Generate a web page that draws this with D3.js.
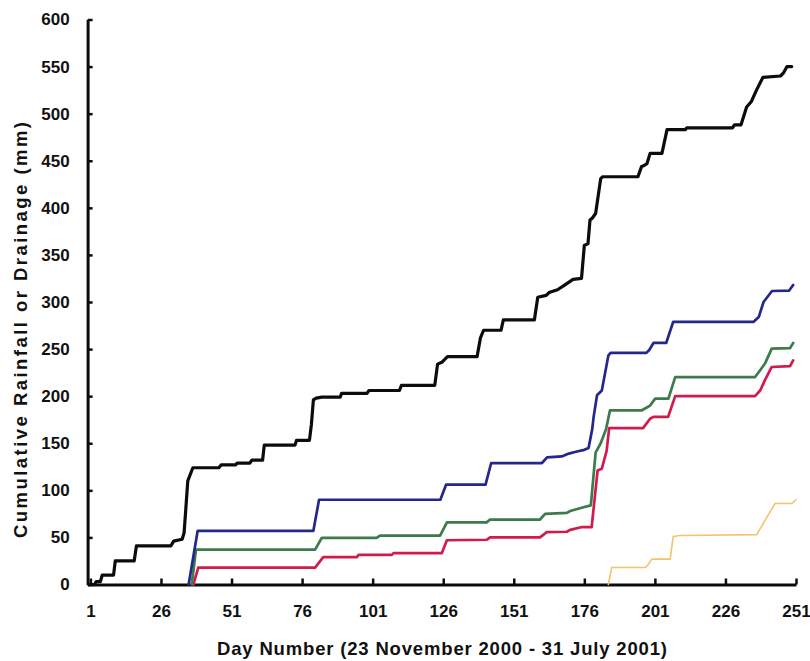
<!DOCTYPE html>
<html>
<head>
<meta charset="utf-8">
<script src="https://cdn.jsdelivr.net/npm/d3@7"></script>
<style>
  html, body { margin: 0; padding: 0; background: #fff; }
  svg { display: block; }
  text { font-family: "Liberation Sans", Arial, sans-serif; font-weight: bold; fill: #111; }
</style>
</head>
<body>
<svg id="chart" width="810" height="661"></svg>
<script>
// Cumulative rainfall and drainage, day number vs. mm

const xTicks = [1, 26, 51, 76, 101, 126, 151, 176, 201, 226, 251];
const yTicks = [0, 50, 100, 150, 200, 250, 300, 350, 400, 450, 500, 550, 600];

// [day, cumulative mm]
const rainfall = [
  [0.8, 0], [2.5, 0], [3, 3], [4.5, 3], [5.2, 10], [9.2, 10], [9.8, 25], [16.5, 25],
  [17.3, 41], [29.5, 41], [30.5, 46], [33.5, 48], [34.2, 55], [35.5, 110], [37.3, 124],
  [46.5, 124], [47.3, 127], [52.5, 127], [53, 129], [57.5, 129], [58.2, 132], [62, 132],
  [62.6, 148], [73.5, 148], [74, 153], [78.6, 153], [79.3, 170], [80, 196], [81, 198],
  [83, 199], [89.5, 199], [90, 203], [99, 203], [99.7, 206], [110.5, 206], [111.2, 211.5],
  [123, 211.5], [124, 234], [125.5, 236], [127.5, 242], [138, 242], [139.2, 262],
  [140.3, 270], [146.5, 270], [147.3, 281], [158.3, 281], [159.5, 305], [162.5, 307],
  [163.5, 310], [166.5, 313], [169, 318], [172, 324], [175, 325], [176, 360], [177.3, 362],
  [178, 387], [178.8, 389], [180, 394], [181.8, 431], [182.5, 433], [195, 433],
  [196.3, 444], [197.2, 445], [198.2, 447], [199.3, 457.8], [203.5, 457.8], [205.3, 483],
  [211.8, 483], [212.3, 485], [228.5, 485], [229.2, 488], [231.5, 488], [233.5, 507],
  [235.2, 513], [237, 525], [239.3, 538.6], [245.5, 540], [246.5, 543], [247.8, 550],
  [249.5, 550]
];

const drainBlue = [
  [35.8, 0], [39, 57], [80, 57], [82, 90], [125, 90], [127, 106], [141, 106], [143, 129],
  [161, 129], [162.8, 135], [168, 136], [170.5, 139], [173, 141], [176, 143], [177.5, 145],
  [178.8, 165], [179.3, 178], [180.5, 201], [182.2, 206], [184.5, 243], [185.3, 246],
  [198, 246], [199, 249], [200.5, 256.5], [205, 256.5], [207.5, 279], [236, 279],
  [237.8, 284], [239.5, 300], [242.5, 311.7], [248.5, 312], [250, 318]
];

const drainGreen = [
  [36.9, 0], [38.4, 37], [80.6, 37], [83, 49.6], [102.4, 49.6], [103.6, 52], [124.9, 52],
  [127.3, 66], [141.4, 66], [142.6, 69], [160.3, 69], [162.1, 75], [169.8, 76], [171, 78],
  [175.7, 82], [178.3, 84], [180, 140], [181.8, 150], [183.7, 165], [185.1, 185],
  [196.4, 185], [199.3, 190], [201.1, 197.4], [205.8, 197.4], [208.2, 220.3], [236.5, 220.3],
  [238.3, 227.5], [240, 234.6], [242.4, 250.5], [248.9, 251], [250, 256.5]
];

const drainRed = [
  [37.5, 0], [39.2, 18], [80.6, 18], [83.5, 29], [95.4, 29], [96, 31.5], [107.8, 31.5],
  [108.4, 33.3], [125.5, 33.3], [127.3, 47], [141.4, 47.5], [142.6, 50], [160.3, 50],
  [162.7, 55.6], [169.8, 56], [171, 58], [175.2, 61], [178.6, 61], [180.7, 121],
  [182.2, 123], [183.9, 142], [184.8, 166], [196.8, 166], [199.3, 176], [200.5, 178],
  [205.7, 178], [208.2, 200], [236.5, 200], [238.3, 206], [240, 217], [242.4, 231],
  [248.9, 232], [250, 238]
];

const drainYellow = [
  [184.5, 0], [185.7, 18], [197.5, 18], [198.6, 21], [199.9, 27], [206.4, 27], [207.5, 51],
  [209.9, 52], [237.1, 53], [240, 68], [243.6, 86], [249.5, 86], [251, 90]
];

const seriesList = [
  { data: drainYellow, color: "#f2c46c", width: 1.6 },
  { data: drainRed,    color: "#d01c4c", width: 2.7 },
  { data: drainGreen,  color: "#3d7a4c", width: 2.7 },
  { data: drainBlue,   color: "#24288a", width: 2.7 },
  { data: rainfall,    color: "#0c0c0c", width: 3.2 }
];

const svg = d3.select("#chart");

const x = d3.scaleLinear().domain([0, 251]).range([87.6, 796]);
const y = d3.scaleLinear().domain([0, 600]).range([584.5, 19.5]);

// axes: ticks point inward, thick black lines
const xAxis = d3.axisBottom(x).tickValues(xTicks).tickFormat(d3.format("d"))
  .tickSizeInner(-6).tickSizeOuter(0).tickPadding(20);
const yAxis = d3.axisLeft(y).tickValues(yTicks).tickFormat(d3.format("d"))
  .tickSizeInner(-5).tickSizeOuter(0).tickPadding(18);

const gx = svg.append("g").attr("transform", `translate(0,${y(0)})`).call(xAxis);
const gy = svg.append("g").attr("transform", `translate(${x(0)},0)`).call(yAxis);

[gx, gy].forEach(g => {
  g.select(".domain").attr("stroke", "#0c0c0c").attr("stroke-width", 3);
  g.selectAll(".tick line").attr("stroke", "#0c0c0c").attr("stroke-width", 2.5);
  g.selectAll(".tick text").attr("font-size", 17).attr("font-weight", "bold")
    .attr("font-family", "'Liberation Sans', Arial, sans-serif").attr("fill", "#111");
});

const line = d3.line().x(d => x(d[0])).y(d => y(d[1]));

svg.append("g").selectAll("path").data(seriesList).join("path")
  .attr("d", d => line(d.data))
  .attr("fill", "none")
  .attr("stroke", d => d.color)
  .attr("stroke-width", d => d.width)
  .attr("stroke-linejoin", "round")
  .attr("stroke-linecap", "round");

// axis titles
svg.append("text")
  .attr("x", 442).attr("y", 655)
  .attr("text-anchor", "middle")
  .attr("font-size", 18.5)
  .attr("textLength", 450)
  .attr("lengthAdjust", "spacing")
  .text("Day Number (23 November 2000 - 31 July 2001)");

svg.append("text")
  .attr("transform", "translate(27,330) rotate(-90)")
  .attr("text-anchor", "middle")
  .attr("font-size", 18.5)
  .attr("textLength", 416)
  .attr("lengthAdjust", "spacing")
  .text("Cumulative Rainfall or Drainage (mm)");
</script>
</body>
</html>
